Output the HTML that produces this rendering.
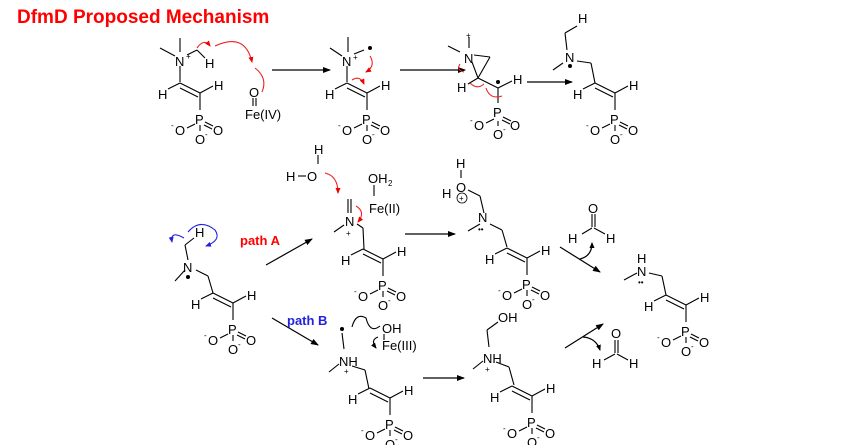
<!DOCTYPE html>
<html><head><meta charset="utf-8"><style>
html,body{margin:0;padding:0;background:#fff;}
svg{display:block;}
text{font-family:"Liberation Sans",Arial,sans-serif;font-size:13px;fill:#000;}
.s{font-size:8px;}
</style></head><body>
<svg width="865" height="445" viewBox="0 0 865 445" xmlns="http://www.w3.org/2000/svg">
<defs>
<marker id="ah" markerWidth="8" markerHeight="6" refX="7" refY="3" orient="auto" markerUnits="userSpaceOnUse"><path d="M0,0 L8,3 L0,6 z" fill="#000"/></marker>
<marker id="rh" markerWidth="6" markerHeight="5" refX="5" refY="2.5" orient="auto" markerUnits="userSpaceOnUse"><path d="M0,0 L6,2.5 L0,5 z" fill="#e00"/></marker>
<marker id="bh" markerWidth="6" markerHeight="5" refX="5" refY="2.5" orient="auto" markerUnits="userSpaceOnUse"><path d="M0,0 L6,2.5 L0,5 z" fill="#22d"/></marker>
<marker id="kh" markerWidth="6" markerHeight="5" refX="5" refY="2.5" orient="auto" markerUnits="userSpaceOnUse"><path d="M0,0 L6,2.5 L0,5 z" fill="#000"/></marker>
</defs>
<text x="17" y="23" style="font-size:19px;font-weight:bold;fill:#f00">DfmD Proposed Mechanism</text>

<g stroke="#000" stroke-width="1.2" fill="none">
<line x1="272" y1="70" x2="330" y2="70" marker-end="url(#ah)"/>
<line x1="400" y1="70" x2="465" y2="70" marker-end="url(#ah)"/>
<line x1="527" y1="82" x2="572" y2="82" marker-end="url(#ah)"/>
<line x1="266" y1="265" x2="312" y2="239" marker-end="url(#ah)"/>
<line x1="272" y1="318" x2="318" y2="345" marker-end="url(#ah)"/>
<line x1="405" y1="234" x2="455" y2="234" marker-end="url(#ah)"/>
<line x1="423" y1="378" x2="464" y2="378" marker-end="url(#ah)"/>
<line x1="560" y1="247" x2="600" y2="272" marker-end="url(#ah)"/>
<line x1="565" y1="348" x2="603" y2="324" marker-end="url(#ah)"/>
<path d="M580,259 Q592,256 592,243" marker-end="url(#kh)"/>
<path d="M583,337 Q596,338 600,350" marker-end="url(#kh)"/>
</g>

<g id="f1" transform="translate(200,93)">
<g stroke="#000" stroke-width="1.1" fill="none">
<line x1="0" y1="0" x2="-20" y2="-10"/><line x1="-2" y1="4" x2="-20" y2="-5"/>
<line x1="0" y1="0" x2="13" y2="-7"/><line x1="-20" y1="-10" x2="-32" y2="-4"/>
<line x1="0" y1="0" x2="0" y2="17"/>
<line x1="-5" y1="31" x2="-13" y2="35"/><line x1="5" y1="29" x2="13" y2="33"/><line x1="4" y1="32" x2="12" y2="36"/>
<line x1="0" y1="32" x2="0" y2="38"/>
</g>
<text x="14" y="-3">H</text><text x="-42" y="6">H</text>
<text x="-5" y="31">P</text><text x="-25" y="42">O</text><text class="s" x="-29" y="35">-</text>
<text x="13" y="42">O</text><text x="-5" y="51">O</text><text class="s" x="5" y="44">-</text>
</g>
<g transform="translate(167,0)"><use href="#f1"/></g>
<g transform="translate(415,0)"><use href="#f1"/></g>
<g transform="translate(33,210)"><use href="#f1"/></g>
<g transform="translate(183,166)"><use href="#f1"/></g>
<g transform="translate(327,165)"><use href="#f1"/></g>
<g transform="translate(190,305)"><use href="#f1"/></g>
<g transform="translate(332,303)"><use href="#f1"/></g>
<g transform="translate(486,212)"><use href="#f1"/></g>

<g stroke="#000" stroke-width="1.1" fill="none">
<line x1="180" y1="82" x2="180" y2="66"/><line x1="175" y1="56" x2="160" y2="48"/><line x1="180" y1="52" x2="180" y2="38"/>
<line x1="187" y1="55" x2="197" y2="50"/><line x1="197" y1="50" x2="205" y2="58"/>
<line x1="253" y1="98" x2="253" y2="106"/><line x1="256" y1="98" x2="256" y2="106"/>
</g>
<text x="175" y="66">N</text><text class="s" x="186" y="59">+</text><text x="205" y="68">H</text>
<text x="249" y="97">O</text><text x="245" y="119">Fe(IV)</text>
<g stroke="#e22" stroke-width="1.1" fill="none">
<path d="M197,48 Q204,38 210,46" marker-end="url(#rh)"/>
<path d="M215,46 Q245,32 252,62" marker-end="url(#rh)"/>
<path d="M262,92 Q268,78 255,68"/>
</g>
<g stroke="#000" stroke-width="1.1" fill="none">
<line x1="347" y1="82" x2="347" y2="66"/><line x1="342" y1="56" x2="330" y2="48"/><line x1="348" y1="52" x2="348" y2="37"/><line x1="354" y1="54" x2="364" y2="50"/>
</g>
<circle cx="370" cy="48" r="2" fill="#000"/>
<text x="342" y="66">N</text><text class="s" x="353" y="60">+</text>
<g stroke="#e22" stroke-width="1.1" fill="none">
<path d="M370,56 Q376,66 366,72" marker-end="url(#rh)"/><path d="M352,80 Q360,75 364,84" marker-end="url(#rh)"/>
</g>
<g stroke="#000" stroke-width="1.1" fill="none">
<line x1="460" y1="52" x2="448" y2="46"/><line x1="469" y1="48" x2="469" y2="37"/><line x1="474" y1="55" x2="490" y2="57"/>
<line x1="490" y1="57" x2="478" y2="78"/><line x1="472" y1="62" x2="478" y2="78"/>
<line x1="478" y1="78" x2="498" y2="88"/><line x1="478" y1="78" x2="468" y2="84"/>
<line x1="498" y1="88" x2="512" y2="81"/><line x1="498" y1="88" x2="498" y2="103"/>
<line x1="494" y1="119" x2="486" y2="123"/><line x1="503" y1="117" x2="511" y2="121"/><line x1="502" y1="120" x2="510" y2="124"/><line x1="498" y1="121" x2="498" y2="126"/>
</g>
<circle cx="498" cy="82" r="2" fill="#000"/>
<text x="464" y="63">N</text><text class="s" x="466" y="38">+</text><text x="457" y="92">H</text><text x="513" y="84">H</text>
<text x="493" y="117">P</text><text x="474" y="130">O</text><text class="s" x="470" y="123">-</text><text x="510" y="130">O</text><text x="493" y="139">O</text><text class="s" x="503" y="132">-</text>
<g stroke="#e22" stroke-width="1.1" fill="none">
<path d="M460,64 Q456,70 464,72"/><path d="M470,83 Q477,90 484,84"/><path d="M486,88 Q490,100 502,96"/>
</g>
<!-- molecule 4 -->
<g stroke="#000" stroke-width="1.1" fill="none">
<line x1="577" y1="61" x2="591" y2="63"/><line x1="591" y1="63" x2="595" y2="83"/>
<line x1="567" y1="50" x2="565" y2="33"/><line x1="565" y1="33" x2="577" y2="26"/><line x1="563" y1="63" x2="553" y2="70"/>
</g>
<text x="578" y="23">H</text><text x="565" y="62">N</text><circle cx="570" cy="66" r="2" fill="#000"/>

<g stroke="#000" stroke-width="1.1" fill="none">
<line x1="213" y1="293" x2="208" y2="276"/><line x1="196" y1="270" x2="208" y2="276"/><line x1="185" y1="270" x2="175" y2="281"/>
<line x1="188" y1="260" x2="185" y2="245"/><line x1="185" y1="245" x2="194" y2="238"/>
</g>
<text x="183" y="272">N</text><circle cx="188" cy="277" r="2" fill="#000"/><text x="195" y="237">H</text>
<g stroke="#22d" stroke-width="1.1" fill="none">
<path d="M184,238 Q170,230 172,242" marker-end="url(#bh)"/>
<path d="M188,232 Q200,218 215,230 Q222,240 206,246" marker-end="url(#bh)"/>
</g>
<text x="240" y="245" style="font-weight:bold;fill:#f00">path A</text>
<text x="287" y="325" style="font-weight:bold;fill:#22d">path B</text>

<g stroke="#000" stroke-width="1.1" fill="none">
<line x1="357" y1="224" x2="363" y2="228"/><line x1="363" y1="228" x2="364" y2="249"/><line x1="344" y1="225" x2="334" y2="232"/>
<line x1="348" y1="199" x2="348" y2="213"/><line x1="351" y1="199" x2="351" y2="213"/>
<line x1="374" y1="185" x2="374" y2="196"/><line x1="298" y1="176" x2="306" y2="176"/><line x1="318" y1="155" x2="318" y2="164"/>
</g>
<text x="345" y="226">N</text><text class="s" x="346" y="236">+</text>
<text x="286" y="181">H</text><text x="307" y="181">O</text><text x="314" y="154">H</text>
<text x="368" y="183">OH</text><text class="s" x="388" y="186">2</text><text x="369" y="213">Fe(II)</text>
<g stroke="#e22" stroke-width="1.1" fill="none">
<path d="M325,173 Q338,176 338,193" marker-end="url(#rh)"/><path d="M356,206 Q366,212 358,222" marker-end="url(#rh)"/>
</g>
<g stroke="#000" stroke-width="1.1" fill="none">
<line x1="507" y1="247" x2="502" y2="230"/><line x1="490" y1="224" x2="502" y2="230"/><line x1="480" y1="224" x2="468" y2="231"/>
<line x1="484" y1="213" x2="480" y2="196"/><line x1="480" y1="196" x2="468" y2="190"/><line x1="461" y1="170" x2="461" y2="178"/>
</g>
<text x="478" y="222">N</text><text x="478" y="232" class="s">••</text>
<text x="456" y="168">H</text><text x="456" y="192">O</text><text x="442" y="198">H</text>
<circle cx="462" cy="198" r="5" fill="none" stroke="#000" stroke-width="0.8"/><text class="s" x="459" y="201">+</text>
<g stroke="#000" stroke-width="1.1" fill="none"><line x1="592" y1="214" x2="592" y2="227"/><line x1="595" y1="214" x2="595" y2="227"/><line x1="592" y1="228" x2="582" y2="234"/><line x1="594" y1="228" x2="605" y2="234"/></g>
<text x="588" y="213">O</text><text x="568" y="243">H</text><text x="606" y="243">H</text>
<g stroke="#000" stroke-width="1.1" fill="none">
<line x1="666" y1="295" x2="662" y2="276"/><line x1="649" y1="273" x2="662" y2="276"/><line x1="637" y1="273" x2="624" y2="280"/>
</g>
<text x="637" y="276">N</text><text x="637" y="263">H</text><text class="s" x="638" y="285">••</text>

<g stroke="#000" stroke-width="1.1" fill="none">
<line x1="369" y1="389" x2="365" y2="370"/><line x1="352" y1="366" x2="365" y2="370"/><line x1="339" y1="364" x2="329" y2="372"/><line x1="344" y1="349" x2="342" y2="333"/>
<line x1="384" y1="334" x2="384" y2="340"/>
</g>
<circle cx="342" cy="329" r="2" fill="#000"/>
<text x="339" y="366">NH</text><text class="s" x="344" y="374">+</text>
<text x="382" y="333">OH</text><text x="382" y="350">Fe(III)</text>
<g stroke="#000" stroke-width="1.1" fill="none"><path d="M352,327 Q356,312 366,318 Q370,334 380,326"/><path d="M378,337 Q370,340 376,348" marker-end="url(#kh)"/></g>
<g stroke="#000" stroke-width="1.1" fill="none">
<line x1="514" y1="385" x2="509" y2="367"/><line x1="496" y1="362" x2="509" y2="367"/><line x1="483" y1="361" x2="473" y2="369"/>
<line x1="489" y1="347" x2="487" y2="330"/><line x1="487" y1="330" x2="498" y2="322"/>
</g>
<text x="483" y="363">NH</text><text class="s" x="485" y="372">+</text><text x="498" y="322">OH</text>
<g stroke="#000" stroke-width="1.1" fill="none"><line x1="615" y1="340" x2="615" y2="353"/><line x1="618" y1="340" x2="618" y2="353"/><line x1="615" y1="354" x2="604" y2="360"/><line x1="617" y1="354" x2="628" y2="360"/></g>
<text x="611" y="338">O</text><text x="592" y="368">H</text><text x="629" y="368">H</text>
</svg>
</body></html>
